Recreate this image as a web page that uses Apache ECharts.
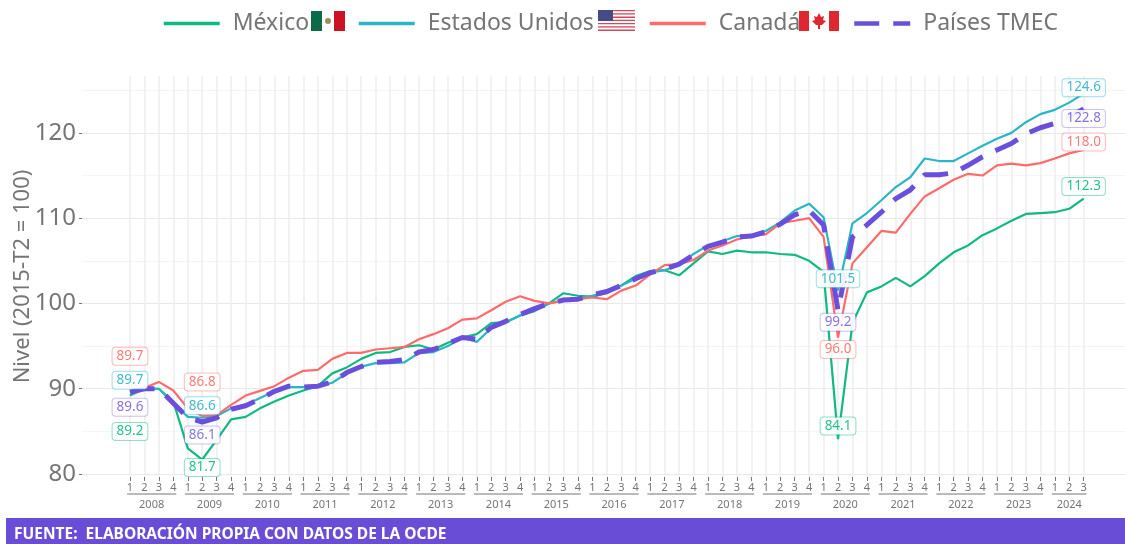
<!DOCTYPE html>
<html>
<head>
<meta charset="utf-8">
<style>
  html, body { margin: 0; padding: 0; background: #fff; }
  #box { width: 1125px; height: 544px; }
</style>
<script src="https://cdn.jsdelivr.net/npm/echarts@6/dist/echarts.min.js"></script>
</head>
<body>
<div id="box"></div>
<script>
// trimestres 2008-T1 a 2024-T3
const years = [2008,2009,2010,2011,2012,2013,2014,2015,2016,2017,2018,2019,2020,2021,2022,2023,2024];
const quarterLabels = ['1','2','3','4'];
const yMajorTicks = [80,90,100,110,120];
const yMinorTicks = [85,95,105,115,125];

const mexico = [89.2,90,90,88.5,83,81.7,84,86.4,86.7,87.7,88.5,89.2,89.8,90.3,91.8,92.5,93.5,94.2,94.3,94.9,95.1,94.6,95.4,96,96.4,97.7,97.8,98.6,99.1,100,101.2,100.9,100.8,101.2,102.1,103.2,103.8,103.9,103.3,104.7,106.1,105.8,106.2,106,106,105.8,105.7,105,103.7,84.1,97.7,101.3,102,103,102,103.2,104.7,106,106.8,108,108.8,109.7,110.5,110.6,110.7,111.1,112.3];
const usa = [89.7,90,90,88.3,86.7,86.6,86.8,87.7,88.1,88.9,89.7,90.2,90.2,90.3,90.7,91.8,92.6,93,93,93.1,94.2,94.3,95,96,95.5,97.1,97.8,98.6,99.4,100,100.4,100.5,100.9,101.4,102.1,102.9,103.6,103.9,104.5,105.8,106.8,107.3,107.9,108,108.5,109.5,110.9,111.7,110.1,101.5,109.4,110.6,112.1,113.65,114.8,117,116.7,116.7,117.6,118.5,119.3,120,121.25,122.2,122.7,123.55,124.6];
const canada = [89.7,90.1,90.8,89.8,87.7,86.8,86.9,88.1,89.2,89.75,90.3,91.3,92.1,92.2,93.5,94.2,94.2,94.6,94.75,94.9,95.8,96.4,97.1,98.1,98.25,99.2,100.2,100.85,100.3,100,100.3,100.5,100.7,100.5,101.5,102.1,103.4,104.5,104.6,105.1,106.2,106.8,107.5,107.9,108.1,109.4,109.7,110,107.8,96,104.7,106.6,108.5,108.3,110.5,112.55,113.5,114.5,115.2,115,116.2,116.4,116.2,116.45,117,117.6,118];
const tmec = [89.6,90,90,88.3,86.6,86.1,86.6,87.6,88,88.8,89.7,90.3,90.2,90.3,90.8,91.9,92.6,93.1,93.2,93.4,94.3,94.6,95.3,96,95.8,97.2,97.9,98.7,99.4,100,100.4,100.5,101,101.4,102.1,102.9,103.6,104,104.6,105.7,106.7,107.2,107.8,107.9,108.4,109.3,110.4,110.9,109.2,99.2,107.8,109.2,110.7,112.3,113.3,115.1,115.1,115.3,116.2,117.2,118,118.75,119.9,120.6,121.1,121.9,122.8];

const labelIdx = [0,5,49,66];

// posicion de cada trimestre sobre el eje
const quarterIdx = mexico.map((v, i) => i);
const yearFirst = years.map((y, i) => i * 4);
const yearLast = years.map((y, i) => Math.min(i * 4 + 3, mexico.length - 1));
const yearMid = years.map((y, i) => (yearFirst[i] + yearLast[i]) / 2);

const GREEN = '#10b981', CYAN = '#2bb5c9', RED = '#ff6b6b', PURPLE = '#6a4fdc';
const GRAY = '#757575';
const FONT = '"Noto Sans", sans-serif';

function buildData(values, offsets) {
  return values.map((v, i) => {
    const k = labelIdx.indexOf(i);
    if (k < 0) return [i, v];
    return { value: [i, v], symbol: 'circle', symbolSize: 0, label: { show: true, offset: [0, offsets[k]] } };
  });
}

function lineSeries(name, values, color, labelColor, offsets, border, extra) {
  return Object.assign({
    name: name,
    type: 'line',
    data: buildData(values, offsets),
    symbol: 'none',
    showSymbol: true,
    showAllSymbol: true,
    lineStyle: { color: color, width: 2.2 },
    itemStyle: { color: color },
    label: {
      show: false,
      position: 'inside',
      formatter: p => p.value[1].toFixed(1),
      color: labelColor,
      fontFamily: FONT,
      fontSize: 13.5,
      backgroundColor: 'rgba(255,255,255,0.92)',
      borderColor: border,
      borderWidth: 1,
      borderRadius: 3,
      padding: [2, 4, 1, 4]
    },
    emphasis: { disabled: true },
    clip: false
  }, extra || {});
}

function legendAt(name, left, lineWidth) {
  return {
    data: [name],
    left: left,
    top: 12,
    padding: 0,
    itemWidth: 56,
    itemHeight: 14,
    selectedMode: false,
    itemStyle: { opacity: 0 },
    lineStyle: { width: lineWidth },
    textStyle: { color: GRAY, fontFamily: FONT, fontSize: 23, padding: [0, 0, 0, 8] }
  };
}

// banderas de la leyenda
function flags() {
  const out = [];
  const rect = (x, y, w, h, fill) => out.push({ type: 'rect', shape: { x, y, width: w, height: h }, style: { fill } });
  rect(311, 11, 11, 20, '#0b6b48');
  rect(322, 11, 12, 20, '#ffffff');
  rect(334, 11, 11, 20, '#ce1126');
  out.push({ type: 'circle', shape: { cx: 328, cy: 21, r: 3 }, style: { fill: '#a58a5c' } });
  for (let i = 0; i < 13; i++) rect(598, 10 + i * 21 / 13, 37, 21 / 13, i % 2 ? '#ffffff' : '#cf4a5c');
  rect(598, 10, 15, 11, '#444c86');
  rect(799, 11, 10, 20, '#e0262e');
  rect(809, 11, 20, 20, '#ffffff');
  rect(829, 11, 10, 20, '#e0262e');
  out.push({ type: 'polygon', shape: { points: [[819,13],[821,17],[824,16],[823,20],[826,21],[822,25],[820,25],[820,29],[818,29],[818,25],[816,25],[812,21],[815,20],[814,16],[817,17]] }, style: { fill: '#e0262e' } });
  return out;
}

let myChart = echarts.init(document.getElementById('box'), null, { renderer: 'canvas' });
let option = {
  animation: false,
  backgroundColor: '#ffffff',
  grid: { left: 82, right: 0, top: 76, bottom: 67, outerBoundsMode: 'none' },
  legend: [
    legendAt('México', 162, 3.5),
    legendAt('Estados Unidos', 357, 3.5),
    legendAt('Canadá', 648, 3.5),
    legendAt('Países TMEC', 852, 4.5)
  ],
  xAxis: [
    {
      type: 'value',
      min: -3.32,
      max: 68.86,
      axisLine: { show: false, onZero: false },
      axisTick: { customValues: quarterIdx, length: 4, lineStyle: { color: '#777', width: 1 } },
      axisLabel: {
        customValues: quarterIdx,
        formatter: v => quarterLabels[v % 4],
        color: GRAY,
        fontFamily: FONT,
        fontSize: 11,
        margin: 5,
        showMinLabel: true,
        showMaxLabel: true,
        hideOverlap: false
      },
      splitLine: { show: true, lineStyle: { color: '#eeeeee', width: 1.5 } }
    },
    {
      type: 'value',
      position: 'bottom',
      min: -3.32,
      max: 68.86,
      axisLine: { show: false, onZero: false },
      axisTick: { show: false, customValues: yearMid },
      axisLabel: {
        customValues: yearMid,
        formatter: v => String(years[yearMid.indexOf(v)]),
        color: GRAY,
        fontFamily: FONT,
        fontSize: 11,
        margin: 22
      },
      splitLine: { show: false }
    }
  ],
  yAxis: [
    {
      type: 'value',
      min: 79.65,
      max: 126.67,
      name: 'Nivel (2015-T2 = 100)',
      nameLocation: 'middle',
      nameGap: 48,
      nameMoveOverlap: false,
      nameTextStyle: { color: GRAY, fontFamily: FONT, fontSize: 22 },
      axisLine: { show: false, onZero: false },
      axisTick: { customValues: yMajorTicks, length: 3, lineStyle: { color: '#777', width: 1 } },
      axisLabel: {
        customValues: yMajorTicks,
        color: GRAY,
        fontFamily: FONT,
        fontSize: 24,
        margin: 6
      },
      splitLine: { show: true, lineStyle: { color: '#e8e8e8', width: 1.2 } }
    },
    {
      // solo las lineas menores de la rejilla
      type: 'value',
      position: 'left',
      min: 79.65,
      max: 126.67,
      axisLine: { show: false, onZero: false },
      axisTick: { show: false, customValues: yMinorTicks },
      axisLabel: { show: false },
      splitLine: { show: true, lineStyle: { color: '#f5f5f5', width: 1.2 } }
    }
  ],
  series: [
    lineSeries('México', mexico, GREEN, 'rgba(16,185,129,0.9)', [36, 8, -13, -12], 'rgba(16,185,129,0.45)'),
    lineSeries('Estados Unidos', usa, CYAN, 'rgba(43,181,201,0.9)', [-11, -12, -12, -6], 'rgba(43,181,201,0.45)'),
    lineSeries('Canadá', canada, RED, 'rgba(255,107,107,0.9)', [-35, -34, 12, -8], 'rgba(255,107,107,0.45)'),
    lineSeries('Países TMEC', tmec, PURPLE, 'rgba(106,79,220,0.8)', [15, 13, 12, 9.5], 'rgba(106,79,220,0.35)', {
      lineStyle: { color: PURPLE, width: 5, type: [25, 14] }
    }),
    {
      // raya bajo los trimestres de cada anio
      type: 'custom',
      silent: true,
      clip: false,
      data: years.map((y, i) => [yearFirst[i], yearLast[i]]),
      encode: { x: [0, 1] },
      renderItem: (params, api) => {
        const a = api.coord([api.value(0) - 0.2, 80]);
        const b = api.coord([api.value(1) + 0.2, 80]);
        return {
          type: 'line',
          shape: { x1: a[0], y1: a[1] + 20, x2: b[0], y2: b[1] + 20 },
          style: { stroke: '#777', lineWidth: 1.2 }
        };
      }
    }
  ],
  graphic: [
    { type: 'group', silent: true, children: flags() },
    { type: 'rect', silent: true, shape: { x: 6, y: 518, width: 1119, height: 26 }, style: { fill: '#6a4dd6' } },
    { type: 'text', silent: true, x: 14, y: 535, style: { text: 'FUENTE:  ELABORACIÓN PROPIA CON DATOS DE LA OCDE', fill: '#ffffff', font: 'bold 15.5px "Noto Sans", sans-serif', verticalAlign: 'middle' } }
  ]
};
myChart.setOption(option);
</script>
</body>
</html>
